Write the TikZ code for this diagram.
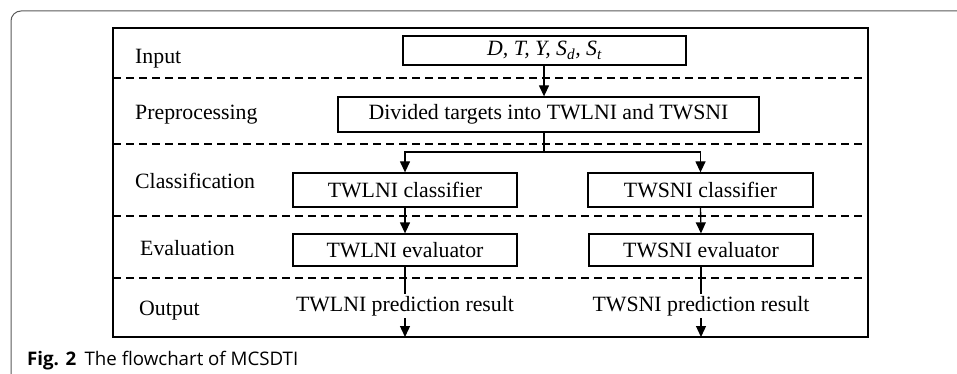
\documentclass[tikz,border=0pt]{standalone}
\usepackage{fontspec}
\setmainfont{Liberation Serif}
\newfontfamily\capfont{Open Sans}
\usetikzlibrary{arrows.meta}
\begin{document}
\begin{tikzpicture}[x=1pt,y=-1pt,
  every node/.style={font=\fontsize{21.8}{25}\selectfont, inner sep=0pt},
  box/.style={draw, line width=1.3pt, fill=white},
  lbl/.style={anchor=base west},
  sep/.style={dashed, dash pattern=on 8pt off 5pt, line width=1.2pt},
  arr/.style={line width=1.3pt, -{Triangle[width=10pt,length=11pt]}},
  ln/.style={line width=1.3pt}]
\useasboundingbox (0,0) rectangle (957,374);
% outer frame
\draw[line width=1pt, gray!70!black] (11,374) -- (11,21) arc[start angle=180,end angle=270,radius=10] -- (957,11);
% main box
\draw[ln] (113,28) rectangle (868,337);
\foreach \y in {78,144,216,278} \draw[sep] (113,\y) -- (868,\y);
% stage labels
\node[lbl] (lin) at (135,64) {Input};
\node[lbl] (lpre) at (135,120) {Preprocessing};
\node[lbl] (lcls) at (135,188) {Classification};
\node[lbl] (lev) at (140,255) {Evaluation};
\node[lbl] (lout) at (139,315) {Output};
% boxes
\node[box, minimum width=283pt, minimum height=29pt] (inp) at (544.5,50.5) {\itshape D, T, Y, S\textsubscript{d}, S\textsubscript{t}};
\node[box, minimum width=421pt, minimum height=35pt] (pre) at (548.5,114.5) {Divided targets into TWLNI and TWSNI};
\node[box, minimum width=224pt, minimum height=34pt] (c1) at (405,190) {TWLNI classifier};
\node[box, minimum width=225pt, minimum height=34pt] (c2) at (700.5,190) {TWSNI classifier};
\node[box, minimum width=224pt, minimum height=32pt] (e1) at (405,250) {TWLNI evaluator};
\node[box, minimum width=224pt, minimum height=32pt] (e2) at (701,250) {TWSNI evaluator};
\coordinate (br) at (544,152);
\coordinate (b1) at (405,337);
\coordinate (b2) at (701,337);
% connectors
\draw[arr] (inp.south -| br) -- (pre.north -| br);
\draw[ln] (pre.south -| br) -- (br);
\draw[arr] (br) -| (c1.north);
\draw[arr] (br) -| (c2.north);
\draw[arr] (c1.south) -- (e1.north);
\draw[arr] (c2.south) -- (e2.north);
\draw[arr] (e1.south) -- (b1);
\draw[arr] (e2.south) -- (b2);
\node[fill=white, inner ysep=2pt, inner xsep=1pt] (o1) at (405,306) {TWLNI prediction result};
\node[fill=white, inner ysep=2pt, inner xsep=1pt] (o2) at (701,306) {TWSNI prediction result};
% caption
\node[anchor=base west, font=\capfont\fontsize{18.7}{22}\selectfont] (cap) at (27,365) {\textbf{Fig. 2}\hspace{0.45em}The flowchart of MCSDTI};
\end{tikzpicture}
\end{document}
